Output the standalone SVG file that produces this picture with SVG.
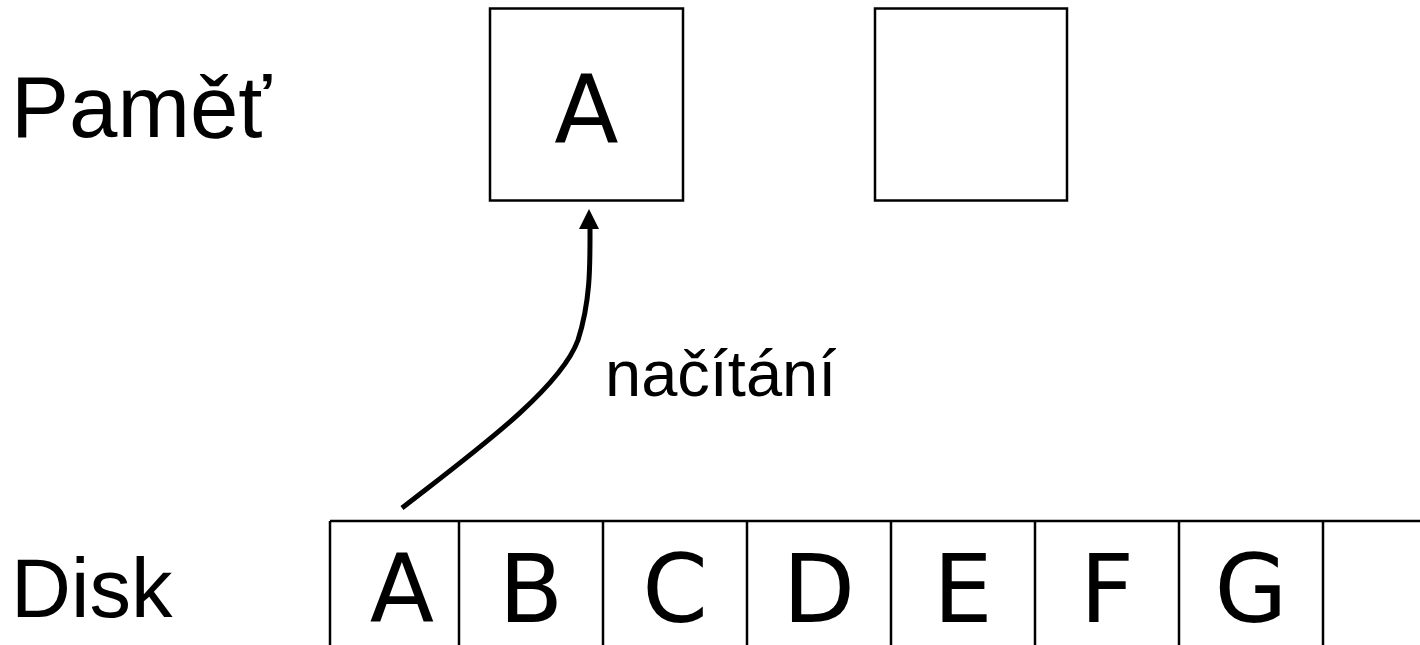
<svg xmlns="http://www.w3.org/2000/svg" width="1420" height="645" viewBox="0 0 1420 645">
<style>
.box{fill:#fff;stroke:#000;stroke-width:2.5}
.ln{stroke:#000;stroke-width:2.5;fill:none}
.lbl{font-family:"Liberation Sans",Arial,sans-serif;fill:#000}
.big{font-family:"DejaVu Sans","Open Sans",sans-serif;font-size:94px;fill:#000;text-anchor:middle}
.conn{stroke:#000;stroke-width:5;fill:none}
</style>
<rect width="1420" height="645" fill="#fff"/>
<g id="label-pamet"><text class="lbl" x="11" y="137" font-size="87">Paměť</text></g>
<g id="label-disk"><text class="lbl" x="11" y="617" font-size="83">Disk</text></g>
<g id="mem-1"><rect class="box" x="490" y="8.5" width="193" height="192"/><text class="big" x="586.5" y="143">A</text></g>
<g id="mem-2"><rect class="box" x="875" y="8.5" width="192" height="192"/></g>
<g id="disk">
<line class="ln" x1="330" y1="521" x2="1420" y2="521"/>
<line class="ln" x1="330" y1="521" x2="330" y2="645"/>
<line class="ln" x1="459" y1="521" x2="459" y2="645"/>
<line class="ln" x1="603" y1="521" x2="603" y2="645"/>
<line class="ln" x1="747" y1="521" x2="747" y2="645"/>
<line class="ln" x1="891" y1="521" x2="891" y2="645"/>
<line class="ln" x1="1035" y1="521" x2="1035" y2="645"/>
<line class="ln" x1="1179" y1="521" x2="1179" y2="645"/>
<line class="ln" x1="1323" y1="521" x2="1323" y2="645"/>
<text class="big" x="402" y="622">A</text>
<text class="big" x="531" y="622">B</text>
<text class="big" x="675" y="622">C</text>
<text class="big" x="819" y="622">D</text>
<text class="big" x="963" y="622">E</text>
<text class="big" x="1107" y="622">F</text>
<text class="big" x="1251" y="622">G</text>
</g>
<g id="connectors">
<path class="conn" d="M402,508 C470,455 560,390 578,340 C591,300 590,262 590,226"/>
<polygon points="589,209 579,229 599,229" fill="#000"/>
<text class="lbl" x="605" y="396" font-size="65">načítání</text>
</g>
</svg>
